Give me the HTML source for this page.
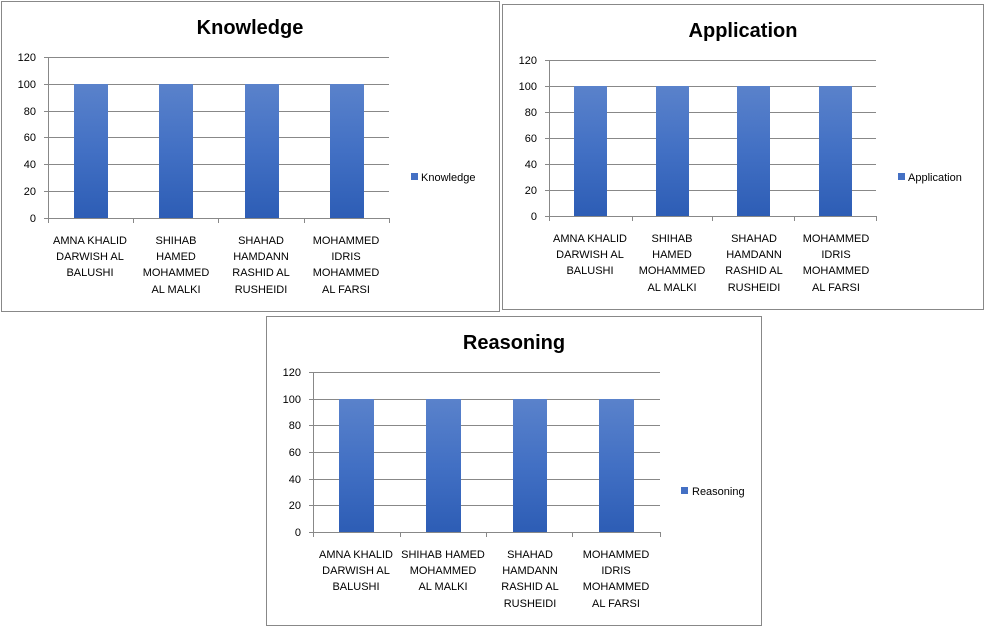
<!DOCTYPE html>
<html><head><meta charset="utf-8"><style>
html,body{margin:0;padding:0;background:#fff;}
svg{display:block;font-family:"Liberation Sans",sans-serif;}
.t{font-size:20px;font-weight:bold;text-anchor:middle;}
.y{font-size:11px;text-anchor:end;fill:#000;}
.x{font-size:11px;text-anchor:middle;fill:#000;}
.l{font-size:11px;fill:#000;}
</style></head><body>
<svg width="987" height="631" viewBox="0 0 987 631" xmlns="http://www.w3.org/2000/svg">
<defs>
<linearGradient id="g" x1="0" y1="0" x2="0" y2="1">
<stop offset="0" stop-color="#5a82cb"/><stop offset="0.5" stop-color="#4270c4"/><stop offset="1" stop-color="#2d5db5"/>
</linearGradient>
</defs>

<!-- Chart 1 -->
<rect x="1.5" y="1.5" width="498" height="310" fill="#fff" stroke="#888"/>
<text class="t" x="250" y="34">Knowledge</text>
<g stroke="#888" stroke-width="1">
<line x1="48" y1="57.5" x2="389" y2="57.5"/><line x1="48" y1="84.5" x2="389" y2="84.5"/><line x1="48" y1="111.5" x2="389" y2="111.5"/><line x1="48" y1="137.5" x2="389" y2="137.5"/><line x1="48" y1="164.5" x2="389" y2="164.5"/><line x1="48" y1="191.5" x2="389" y2="191.5"/><line x1="48" y1="218.5" x2="389" y2="218.5"/>
<line x1="48.5" y1="57" x2="48.5" y2="223"/>
<line x1="133.5" y1="218" x2="133.5" y2="223"/><line x1="218.5" y1="218" x2="218.5" y2="223"/><line x1="304.5" y1="218" x2="304.5" y2="223"/><line x1="389.5" y1="218" x2="389.5" y2="223"/>
<line x1="44" y1="57.5" x2="48" y2="57.5"/><line x1="44" y1="84.5" x2="48" y2="84.5"/><line x1="44" y1="111.5" x2="48" y2="111.5"/><line x1="44" y1="137.5" x2="48" y2="137.5"/><line x1="44" y1="164.5" x2="48" y2="164.5"/><line x1="44" y1="191.5" x2="48" y2="191.5"/><line x1="44" y1="218.5" x2="48" y2="218.5"/>
</g>
<g fill="url(#g)"><rect x="74" y="84" width="34" height="134"/><rect x="159" y="84" width="34" height="134"/><rect x="245" y="84" width="34" height="134"/><rect x="330" y="84" width="34" height="134"/></g>
<g class="y"><text x="36" y="61">120</text><text x="36" y="88">100</text><text x="36" y="115">80</text><text x="36" y="141">60</text><text x="36" y="168">40</text><text x="36" y="195">20</text><text x="36" y="222">0</text></g>
<g class="x">
<text x="90" y="244">AMNA KHALID</text><text x="90" y="260">DARWISH AL</text><text x="90" y="276">BALUSHI</text>
<text x="176" y="244">SHIHAB</text><text x="176" y="260">HAMED</text><text x="176" y="276">MOHAMMED</text><text x="176" y="293">AL MALKI</text>
<text x="261" y="244">SHAHAD</text><text x="261" y="260">HAMDANN</text><text x="261" y="276">RASHID AL</text><text x="261" y="293">RUSHEIDI</text>
<text x="346" y="244">MOHAMMED</text><text x="346" y="260">IDRIS</text><text x="346" y="276">MOHAMMED</text><text x="346" y="293">AL FARSI</text>
</g>
<rect x="411" y="173" width="7" height="7" fill="#4470c4"/><text class="l" x="421" y="181">Knowledge</text>

<!-- Chart 2 -->
<rect x="502.5" y="4.5" width="481" height="305" fill="#fff" stroke="#888"/>
<text class="t" x="743" y="37">Application</text>
<g stroke="#888">
<line x1="549" y1="60.5" x2="876" y2="60.5"/><line x1="549" y1="86.5" x2="876" y2="86.5"/><line x1="549" y1="112.5" x2="876" y2="112.5"/><line x1="549" y1="138.5" x2="876" y2="138.5"/><line x1="549" y1="164.5" x2="876" y2="164.5"/><line x1="549" y1="190.5" x2="876" y2="190.5"/><line x1="549" y1="216.5" x2="876" y2="216.5"/>
<line x1="549.5" y1="60" x2="549.5" y2="221"/>
<line x1="632.5" y1="216" x2="632.5" y2="221"/><line x1="712.5" y1="216" x2="712.5" y2="221"/><line x1="794.5" y1="216" x2="794.5" y2="221"/><line x1="876.5" y1="216" x2="876.5" y2="221"/>
<line x1="545" y1="60.5" x2="549" y2="60.5"/><line x1="545" y1="86.5" x2="549" y2="86.5"/><line x1="545" y1="112.5" x2="549" y2="112.5"/><line x1="545" y1="138.5" x2="549" y2="138.5"/><line x1="545" y1="164.5" x2="549" y2="164.5"/><line x1="545" y1="190.5" x2="549" y2="190.5"/><line x1="545" y1="216.5" x2="549" y2="216.5"/>
</g>
<g fill="url(#g)"><rect x="574" y="86" width="33" height="130"/><rect x="656" y="86" width="33" height="130"/><rect x="737" y="86" width="33" height="130"/><rect x="819" y="86" width="33" height="130"/></g>
<g class="y"><text x="537" y="64">120</text><text x="537" y="90">100</text><text x="537" y="116">80</text><text x="537" y="142">60</text><text x="537" y="168">40</text><text x="537" y="194">20</text><text x="537" y="220">0</text></g>
<g class="x">
<text x="590" y="242">AMNA KHALID</text><text x="590" y="258">DARWISH AL</text><text x="590" y="274">BALUSHI</text>
<text x="672" y="242">SHIHAB</text><text x="672" y="258">HAMED</text><text x="672" y="274">MOHAMMED</text><text x="672" y="291">AL MALKI</text>
<text x="754" y="242">SHAHAD</text><text x="754" y="258">HAMDANN</text><text x="754" y="274">RASHID AL</text><text x="754" y="291">RUSHEIDI</text>
<text x="836" y="242">MOHAMMED</text><text x="836" y="258">IDRIS</text><text x="836" y="274">MOHAMMED</text><text x="836" y="291">AL FARSI</text>
</g>
<rect x="898" y="173" width="7" height="7" fill="#4470c4"/><text class="l" x="908" y="181">Application</text>

<!-- Chart 3 -->
<rect x="266.5" y="316.5" width="495" height="309" fill="#fff" stroke="#888"/>
<text class="t" x="514" y="349">Reasoning</text>
<g stroke="#888">
<line x1="313" y1="372.5" x2="660" y2="372.5"/><line x1="313" y1="399.5" x2="660" y2="399.5"/><line x1="313" y1="425.5" x2="660" y2="425.5"/><line x1="313" y1="452.5" x2="660" y2="452.5"/><line x1="313" y1="479.5" x2="660" y2="479.5"/><line x1="313" y1="505.5" x2="660" y2="505.5"/><line x1="313" y1="532.5" x2="660" y2="532.5"/>
<line x1="313.5" y1="372" x2="313.5" y2="537"/>
<line x1="400.5" y1="532" x2="400.5" y2="537"/><line x1="486.5" y1="532" x2="486.5" y2="537"/><line x1="572.5" y1="532" x2="572.5" y2="537"/><line x1="660.5" y1="532" x2="660.5" y2="537"/>
<line x1="309" y1="372.5" x2="313" y2="372.5"/><line x1="309" y1="399.5" x2="313" y2="399.5"/><line x1="309" y1="425.5" x2="313" y2="425.5"/><line x1="309" y1="452.5" x2="313" y2="452.5"/><line x1="309" y1="479.5" x2="313" y2="479.5"/><line x1="309" y1="505.5" x2="313" y2="505.5"/><line x1="309" y1="532.5" x2="313" y2="532.5"/>
</g>
<g fill="url(#g)"><rect x="339" y="399" width="35" height="133"/><rect x="426" y="399" width="35" height="133"/><rect x="513" y="399" width="34" height="133"/><rect x="599" y="399" width="35" height="133"/></g>
<g class="y"><text x="301" y="376">120</text><text x="301" y="403">100</text><text x="301" y="429">80</text><text x="301" y="456">60</text><text x="301" y="483">40</text><text x="301" y="509">20</text><text x="301" y="536">0</text></g>
<g class="x">
<text x="356" y="558">AMNA KHALID</text><text x="356" y="574">DARWISH AL</text><text x="356" y="590">BALUSHI</text>
<text x="443" y="558">SHIHAB HAMED</text><text x="443" y="574">MOHAMMED</text><text x="443" y="590">AL MALKI</text>
<text x="530" y="558">SHAHAD</text><text x="530" y="574">HAMDANN</text><text x="530" y="590">RASHID AL</text><text x="530" y="607">RUSHEIDI</text>
<text x="616" y="558">MOHAMMED</text><text x="616" y="574">IDRIS</text><text x="616" y="590">MOHAMMED</text><text x="616" y="607">AL FARSI</text>
</g>
<rect x="681" y="487" width="7" height="7" fill="#4470c4"/><text class="l" x="692" y="495">Reasoning</text>
</svg>
</body></html>
